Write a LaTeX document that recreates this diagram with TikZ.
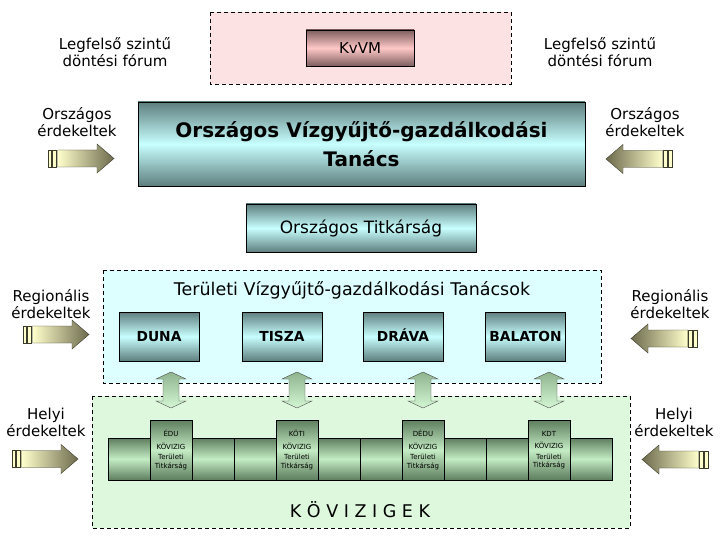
\documentclass[tikz,border=0pt]{standalone}
\usepackage{fontspec}
\setmainfont{DejaVu Sans}
\usetikzlibrary{positioning}

\definecolor{tealdark}{HTML}{5E7E7E}
\definecolor{teallight}{HTML}{C8FFFF}
\definecolor{rosedark}{HTML}{7E5E5E}
\definecolor{roselight}{HTML}{FFC8C8}
\definecolor{kovdark}{HTML}{5E7E5E}
\definecolor{kovlight}{HTML}{C4ECC4}
\definecolor{pinkzone}{HTML}{FCE2E2}
\definecolor{bluezone}{HTML}{DDFFFF}
\definecolor{greenzone}{HTML}{DEF8DE}
\definecolor{arrowlight}{HTML}{FFFFCC}
\definecolor{arrowdark}{HTML}{6C6A4C}
\definecolor{arrowline}{HTML}{3C3C2C}
\definecolor{updark}{HTML}{8EB48E}
\definecolor{uplight}{HTML}{D4F6D4}

\tikzset{
    zone/.style={
        draw=black,
        dash pattern=on 4pt off 3pt,
    },
    tealbox/.style={
        rectangle,
        draw=black,
        top color=tealdark,
        bottom color=tealdark,
        middle color=teallight,
        inner sep=0pt,
    },
    rosebox/.style={
        rectangle,
        draw=black,
        top color=rosedark,
        bottom color=rosedark,
        middle color=roselight,
        inner sep=0pt,
    },
    kovseg/.style={
        rectangle,
        draw=black,
        top color=kovdark,
        bottom color=kovdark,
        middle color=kovlight,
        minimum width=42pt,
        minimum height=42pt,
        inner sep=0pt,
    },
    kovtall/.style={
        kovseg,
        minimum height=60pt,
        align=center,
        font=\fontsize{7}{10.5}\selectfont,
    },
    riverbox/.style={
        tealbox,
        minimum width=80pt,
        minimum height=49pt,
        text height=10pt,
        text depth=0pt,
        font=\bfseries\fontsize{13.8}{16}\selectfont,
    },
    sidetext/.style={
        align=center,
        inner sep=0pt,
        font=\fontsize{15}{17}\selectfont,
    },
    pics/erdek/.style 2 args={
        code={
            \draw[arrowline, fill=arrowlight] (0,-8.5) rectangle (3.5,8.5);
            \draw[arrowline, fill=arrowlight] (4.5,-8.5) rectangle (8.5,8.5);
            \draw[arrowline, left color=#1, right color=#2]
                (9.5,-8.5) -- (49,-8.5) -- (49,-14.5) -- (66,0)
                -- (49,14.5) -- (49,8.5) -- (9.5,8.5) -- cycle;
        }
    },
    pics/kapocs/.style={
        code={
            \draw[black!70, top color=updark, bottom color=uplight]
                (0,-18) -- (15,-11) -- (8,-11) -- (8,11) -- (15,11)
                -- (0,18) -- (-15,11) -- (-8,11) -- (-8,-11)
                -- (-15,-11) -- cycle;
        }
    },
}

\begin{document}
\begin{tikzpicture}[x=1pt,y=-1pt]
    \useasboundingbox (0,0) rectangle (720,540);

    % zones
    \path[zone, fill=pinkzone] (210,12) rectangle (511,84);
    \path[zone, fill=bluezone] (103,270) rectangle (601,383);
    \path[zone, fill=greenzone] (92,396) rectangle (630,528);

    % top level
    \node[rosebox, minimum width=108pt, minimum height=36pt,
        font=\fontsize{15}{17}\selectfont] (kvvm) at (360,48) {KvVM};
    \node[sidetext] (forumL) at (115,52) {Legfelső szintű\\döntési fórum};
    \node[sidetext] (forumR) at (600,52) {Legfelső szintű\\döntési fórum};

    \node[tealbox, minimum width=447pt, minimum height=84pt, align=center,
        font=\bfseries\fontsize{20}{29}\selectfont] (ovgt) at (361.5,144)
        {Országos Vízgyűjtő-gazdálkodási\\Tanács};
    \node[tealbox, minimum width=230pt, minimum height=48pt,
        font=\fontsize{17}{19}\selectfont] (titk) at (361,228) {Országos Titkárság};

    % regional councils
    \node[font=\fontsize{17.5}{19}\selectfont] (tvgt) at (352,290)
        {Területi Vízgyűjtő-gazdálkodási Tanácsok};
    \node[riverbox] (duna) at (159,336.5) {DUNA};
    \node[riverbox] (tisza) at (282,336.5) {TISZA};
    \node[riverbox] (drava) at (403,336.5) {DRÁVA};
    \node[riverbox] (balaton) at (525.5,336.5) {BALATON};

    % kövizig bar
    \foreach \i in {0,2,3,5,6,8,9,11}
        \node[kovseg] (seg\i) at ({129+42*\i},459) {};
    \foreach \i/\nm/\lbl in {1/edu/ÉDU,4/koti/KÖTI,7/dedu/DÉDU,10/kdt/KDT}
        \node[kovtall] (\nm) at ({129+42*\i},450)
            {\lbl\\[2pt]KÖVIZIG\\Területi\\[-2pt]Titkárság};
    \node[font=\fontsize{17.5}{19}\selectfont] (kovizigek) at (360,510)
        {K Ö V I Z I G E K};

    % links between the two levels
    \coordinate (kapocsy) at (0,390);
    \foreach \nm in {edu,koti,dedu,kdt}
        \pic at (\nm.north |- kapocsy) {kapocs};

    % interests
    \node[sidetext] (orszL) at (77,122) {Országos\\érdekeltek};
    \node[sidetext] (orszR) at (645,122) {Országos\\érdekeltek};
    \node[sidetext] (regL) at (51,304) {Regionális\\érdekeltek};
    \node[sidetext] (regR) at (670,304) {Regionális\\érdekeltek};
    \node[sidetext] (helyiL) at (46,422) {Helyi\\érdekeltek};
    \node[sidetext] (helyiR) at (674,422) {Helyi\\érdekeltek};

    \pic at (48,158.5) {erdek={arrowlight}{arrowdark}};
    \pic[xscale=-1] at (672,159) {erdek={arrowdark}{arrowlight}};
    \pic at (23,334.5) {erdek={arrowlight}{arrowdark}};
    \pic[xscale=-1] at (697,338.5) {erdek={arrowdark}{arrowlight}};
    \pic at (12,459) {erdek={arrowlight}{arrowdark}};
    \pic[xscale=-1] at (708,459.5) {erdek={arrowdark}{arrowlight}};
\end{tikzpicture}
\end{document}
